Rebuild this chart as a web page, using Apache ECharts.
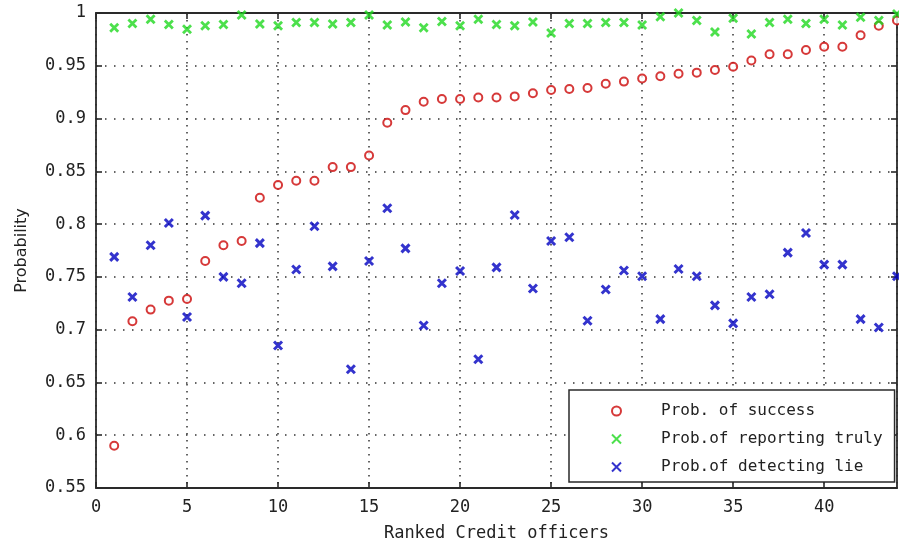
<!DOCTYPE html>
<html>
<head>
<meta charset="utf-8">
<script src="https://cdn.jsdelivr.net/npm/echarts@6/dist/echarts.min.js"></script>
<style>html,body{margin:0;padding:0;background:#fff;}#c{width:899px;height:543px;}</style>
</head>
<body>
<div id="c"></div>
<script>
const officers = [1,2,3,4,5,6,7,8,9,10,11,12,13,14,15,16,17,18,19,20,21,22,23,24,25,26,27,28,29,30,31,32,33,34,35,36,37,38,39,40,41,42,43,44];
const probSuccess = [0.590,0.708,0.719,0.7275,0.729,0.765,0.780,0.784,0.825,0.837,0.841,0.841,0.854,0.854,0.865,0.896,0.908,0.916,0.9185,0.9185,0.920,0.920,0.921,0.924,0.927,0.928,0.929,0.933,0.935,0.938,0.940,0.9425,0.9435,0.946,0.949,0.955,0.961,0.961,0.965,0.968,0.968,0.979,0.988,0.993];
const probTruly = [0.986,0.990,0.994,0.989,0.9845,0.988,0.989,0.998,0.9895,0.988,0.991,0.991,0.9895,0.991,0.998,0.9886,0.9915,0.986,0.992,0.988,0.994,0.989,0.988,0.9915,0.981,0.990,0.990,0.991,0.991,0.9886,0.9965,1.0,0.993,0.982,0.995,0.980,0.991,0.994,0.990,0.994,0.9886,0.996,0.993,0.999];
const probLie = [0.769,0.731,0.780,0.801,0.712,0.808,0.750,0.744,0.782,0.685,0.757,0.798,0.760,0.6625,0.765,0.815,0.777,0.704,0.744,0.7556,0.672,0.759,0.8086,0.739,0.784,0.7875,0.7085,0.738,0.756,0.7506,0.710,0.7575,0.7506,0.723,0.706,0.731,0.7335,0.773,0.7916,0.7616,0.7616,0.710,0.702,0.7506];
const seriesNames = ['Prob. of success','Prob.of reporting truly','Prob.of detecting lie'];
const xTitle = 'Ranked Credit officers';
const yTitle = 'Probability';

const FONT = 'DejaVu Sans';
const MONO = 'DejaVu Sans Mono';
const pair = (ys) => officers.map((x, i) => [x, ys[i]]);
const X_SYM = 'path://M0,0L10,10M0,10L10,0';
const axisLine = {show:true, onZero:false, lineStyle:{color:'#2a2a2a', width:1.8}};
const tick = {show:true, inside:true, length:6, lineStyle:{color:'#2a2a2a', width:1.6}};

const chart = echarts.init(document.getElementById('c'), null, {renderer:'canvas'});
chart.setOption({
  animation:false,
  backgroundColor:'#fff',
  textStyle:{fontFamily:FONT},
  grid:{left:96, top:13, right:2, bottom:55, containLabel:false, outerBoundsMode:'none'},
  xAxis:[{
    type:'value', min:0, max:44, interval:5, position:'bottom',
    name:xTitle, nameLocation:'middle', nameGap:37,
    nameTextStyle:{fontSize:17, color:'#222', fontFamily:MONO},
    axisLine:axisLine, axisTick:tick,
    axisLabel:{fontSize:17, color:'#222', margin:11, showMaxLabel:false, fontFamily:MONO},
    splitLine:{show:true, lineStyle:{color:'#333', type:[1.5,5.5], width:1.5}}
  },{
    type:'value', min:0, max:44, interval:5, position:'top',
    axisLine:axisLine, axisTick:tick,
    axisLabel:{show:false}, splitLine:{show:false}
  }],
  yAxis:[{
    type:'value', min:0.55, max:1, interval:0.05, position:'left',
    name:yTitle, nameLocation:'middle', nameGap:66,
    nameTextStyle:{fontSize:16, color:'#222', fontFamily:FONT},
    axisLine:axisLine, axisTick:tick,
    axisLabel:{fontSize:17, color:'#222', margin:10, fontFamily:MONO, padding:[4,0,0,0],
      formatter:(v)=>String(+(+v).toFixed(2))},
    splitLine:{show:true, lineStyle:{color:'#333', type:[1.5,7.5], width:1.5}}
  },{
    type:'value', min:0.55, max:1, interval:0.05, position:'right',
    axisLine:axisLine, axisTick:tick,
    axisLabel:{show:false}, splitLine:{show:false}
  }],
  legend:{
    orient:'vertical', left:569, top:390,
    backgroundColor:'#fff', borderColor:'#2a2a2a', borderWidth:1.5,
    padding:[12, 12, 6, 42],
    itemWidth:9, itemHeight:9, itemGap:10,
    textStyle:{fontSize:16, color:'#222', fontFamily:MONO, padding:[0,0,0,35], lineHeight:18},
    data:seriesNames
  },
  series:[{
    name:seriesNames[0], type:'scatter', data:pair(probSuccess), clip:false,
    symbol:'emptyCircle', symbolSize:8,
    itemStyle:{color:'#cc0808', borderColor:'#cc0808', borderWidth:2.8}
  },{
    name:seriesNames[1], type:'scatter', data:pair(probTruly), clip:false,
    symbol:X_SYM, symbolSize:8,
    itemStyle:{color:'#1fd81f', borderColor:'#1fd81f', borderWidth:2.8}
  },{
    name:seriesNames[2], type:'scatter', data:pair(probLie), clip:false,
    symbol:X_SYM, symbolSize:8,
    itemStyle:{color:'#0000c0', borderColor:'#0000c0', borderWidth:3}
  }]
});
</script>
</body>
</html>
